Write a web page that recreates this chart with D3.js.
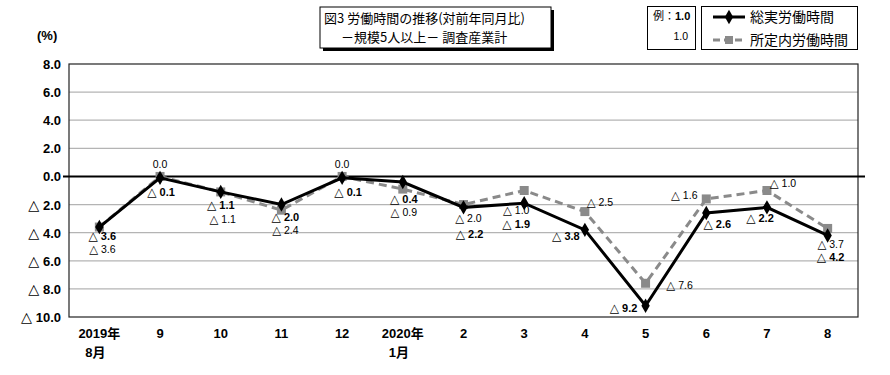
<!DOCTYPE html>
<html>
<head>
<meta charset="utf-8">
<title>労働時間の推移</title>
<script src="https://d3js.org/d3.v7.min.js"></script>
<style>
  body { margin: 0; background: #fff; }
  text { font-family: "Liberation Sans", "DejaVu Sans", "Noto Sans CJK JP", sans-serif; }
  .jp { font-family: "Noto Sans CJK JP", sans-serif; }
  .tick-lbl { font-size: 13px; font-weight: bold; }
  .lbl-total { font-size: 11px; font-weight: bold; }
  .lbl-sched { font-family: "Liberation Sans Narrow", "Liberation Sans", "DejaVu Sans", sans-serif; font-size: 10.5px; }
  .tri { font-family: "DejaVu Sans", sans-serif; font-size: 1.1em; }
</style>
</head>
<body>
<script>
// categories (multi-line x labels)
var months = [["2019年", "8月"], ["9"], ["10"], ["11"], ["12"], ["2020年", "1月"],
              ["2"], ["3"], ["4"], ["5"], ["6"], ["7"], ["8"]];
// 総実労働時間 (前年同月比 %)
var totalHours = [-3.6, -0.1, -1.1, -2.0, -0.1, -0.4, -2.2, -1.9, -3.8, -9.2, -2.6, -2.2, -4.2];
// 所定内労働時間 (前年同月比 %)
var schedHours = [-3.6, 0.0, -1.1, -2.4, 0.0, -0.9, -2.0, -1.0, -2.5, -7.6, -1.6, -1.0, -3.7];
var yTicks = [8, 6, 4, 2, 0, -2, -4, -6, -8, -10];

// label placement relative to each point [dx, dy]
var totalLabelOff = [[3,13],[1,18],[0,17],[4,16],[6,18],[1,21],[6,31],[-8,25],[-19,10],[-22,6],[11,15],[-7,15],[3,26]];
var schedLabelOff = [[3,26],[0,-8],[2,31],[4,24],[0,-8],[1,27],[5,17],[-8,23],[15,-6],[34,6],[-22,0],[16,-4],[3,20]];

var W = 890, H = 375;
var plot = {left: 69, right: 858, top: 64, bottom: 317};

var svg = d3.select("body").append("svg")
    .attr("width", W).attr("height", H);

var x = d3.scaleBand()
    .domain(d3.range(months.length))
    .range([plot.left, plot.right])
    .padding(0);
var cx = function(i) { return x(i) + x.bandwidth() / 2; };

var y = d3.scaleLinear().domain([-10, 8]).range([plot.bottom, plot.top]);

// negative values are written with △ in Japanese statistics
function writeVal(sel) {
  sel.each(function(v) {
    var t = d3.select(this);
    if (v < 0) {
      t.append("tspan").attr("class", "tri").text("△");
      t.append("tspan").text(" " + Math.abs(v).toFixed(1));
    } else {
      t.text(v.toFixed(1));
    }
  });
}

// gridlines
svg.append("g").selectAll("line")
  .data(yTicks.filter(function(d) { return d !== 0 && d !== 8 && d !== -10; }))
  .enter().append("line")
  .attr("x1", plot.left).attr("x2", plot.right)
  .attr("y1", function(d) { return y(d); }).attr("y2", function(d) { return y(d); })
  .attr("stroke", "#b4b4b4").attr("stroke-width", 1.3);

// plot border
svg.append("rect")
  .attr("x", plot.left).attr("y", plot.top)
  .attr("width", plot.right - plot.left).attr("height", plot.bottom - plot.top)
  .attr("fill", "none").attr("stroke", "#222").attr("stroke-width", 1.2);

// zero line
svg.append("line")
  .attr("x1", plot.left - 6).attr("x2", plot.right + 7)
  .attr("y1", y(0)).attr("y2", y(0))
  .attr("stroke", "#000").attr("stroke-width", 2);

// y axis labels
svg.append("g").selectAll("text")
  .data(yTicks).enter().append("text")
  .attr("class", "tick-lbl")
  .attr("x", plot.left - 8)
  .attr("y", function(d) { return y(d) + 5; })
  .attr("text-anchor", "end")
  .call(writeVal);

svg.append("text").attr("class", "tick-lbl")
  .attr("x", 37).attr("y", 40).text("(%)");

// x axis labels
var xl = svg.append("g").selectAll("text")
  .data(months).enter().append("text")
  .attr("class", "tick-lbl")
  .attr("text-anchor", "middle")
  .attr("x", function(d, i) { return cx(i); })
  .attr("y", 338);
xl.selectAll("tspan").data(function(d, i) { return d.map(function(s) { return [s, i]; }); })
  .enter().append("tspan")
  .attr("x", function(d) { return cx(d[1]) + (d[0].length > 2 ? 0 : (months[d[1]].length > 1 ? -4 : 0)); })
  .attr("dy", function(d, j) { return j === 0 ? 0 : 19; })
  .text(function(d) { return d[0]; });

// lines
var line = function(vals) {
  return d3.line().x(function(d, i) { return cx(i); }).y(function(d) { return y(d); })(vals);
};

svg.append("path").attr("d", line(schedHours))
  .attr("fill", "none").attr("stroke", "#8a8a8a").attr("stroke-width", 3)
  .attr("stroke-dasharray", "8,5");
svg.append("g").selectAll("rect").data(schedHours).enter().append("rect")
  .attr("x", function(d, i) { return cx(i) - 4.5; })
  .attr("y", function(d) { return y(d) - 4.5; })
  .attr("width", 9).attr("height", 9).attr("fill", "#8a8a8a");

svg.append("path").attr("d", line(totalHours))
  .attr("fill", "none").attr("stroke", "#000").attr("stroke-width", 3);
var diamond = d3.symbol().type(d3.symbolDiamond).size(60);
svg.append("g").selectAll("path").data(totalHours).enter().append("path")
  .attr("d", diamond)
  .attr("transform", function(d, i) { return "translate(" + cx(i) + "," + y(d) + ")"; })
  .attr("fill", "#000");

// data labels
svg.append("g").selectAll("text").data(schedHours).enter().append("text")
  .attr("class", "lbl-sched")
  .attr("text-anchor", "middle")
  .attr("x", function(d, i) { return cx(i) + schedLabelOff[i][0]; })
  .attr("y", function(d, i) { return y(d) + schedLabelOff[i][1]; })
  .call(writeVal);

svg.append("g").selectAll("text").data(totalHours).enter().append("text")
  .attr("class", "lbl-total")
  .attr("text-anchor", "middle")
  .attr("x", function(d, i) { return cx(i) + totalLabelOff[i][0]; })
  .attr("y", function(d, i) { return y(d) + totalLabelOff[i][1]; })
  .call(writeVal);

// title box with shadow
svg.append("rect").attr("x", 323).attr("y", 10).attr("width", 231).attr("height", 41).attr("fill", "#000");
svg.append("rect").attr("x", 320).attr("y", 7).attr("width", 231).attr("height", 41)
  .attr("fill", "#fff").attr("stroke", "#000").attr("stroke-width", 1);
svg.append("text").attr("class", "jp").attr("x", 324).attr("y", 23)
  .attr("font-size", 13).text("図3  労働時間の推移(対前年同月比)");
svg.append("text").attr("class", "jp").attr("x", 341).attr("y", 42)
  .attr("font-size", 13).text("－規模5人以上－  調査産業計");

// example box
svg.append("rect").attr("x", 647.5).attr("y", 6.5).attr("width", 48).attr("height", 43)
  .attr("fill", "#fff").attr("stroke", "#000");
var ex = svg.append("text").attr("x", 653).attr("y", 20).attr("font-size", 11);
ex.append("tspan").attr("class", "jp").text("例：");
ex.append("tspan").attr("font-weight", "bold").text("1.0");
svg.append("text").attr("class", "lbl-sched").attr("x", 688).attr("y", 40)
  .attr("text-anchor", "end").text("1.0");

// legend box
svg.append("rect").attr("x", 701.5).attr("y", 6.5).attr("width", 156).attr("height", 43)
  .attr("fill", "#fff").attr("stroke", "#000");
svg.append("line").attr("x1", 713).attr("x2", 745).attr("y1", 17).attr("y2", 17)
  .attr("stroke", "#000").attr("stroke-width", 3);
svg.append("path").attr("d", diamond).attr("transform", "translate(729,17)").attr("fill", "#000");
svg.append("text").attr("class", "jp").attr("x", 750).attr("y", 22).attr("font-size", 14)
  .text("総実労働時間");
svg.append("line").attr("x1", 713).attr("x2", 745).attr("y1", 40).attr("y2", 40)
  .attr("stroke", "#8a8a8a").attr("stroke-width", 3).attr("stroke-dasharray", "7,4");
svg.append("rect").attr("x", 725).attr("y", 36).attr("width", 8).attr("height", 8).attr("fill", "#8a8a8a");
svg.append("text").attr("class", "jp").attr("x", 750).attr("y", 45).attr("font-size", 14)
  .text("所定内労働時間");
</script>
</body>
</html>
